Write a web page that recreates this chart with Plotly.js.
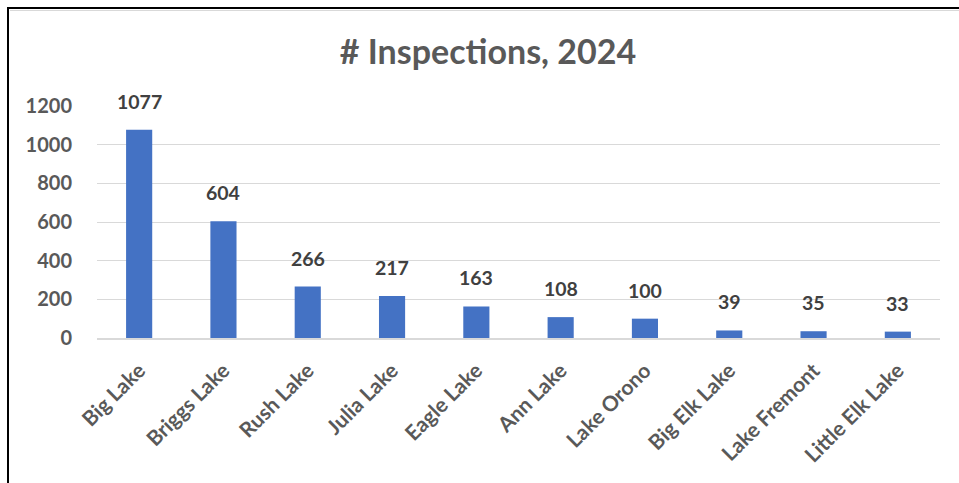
<!DOCTYPE html>
<html>
<head>
<meta charset="utf-8">
<script src="https://cdn.plot.ly/plotly-3.0.1.min.js"></script>
<style>
  html, body { margin: 0; padding: 0; background: #fff; }
  #wrap { position: relative; width: 959px; height: 483px; overflow: hidden; }
  #chart { width: 959px; height: 483px; }
  #frame { position: absolute; left: 7px; top: 7px; width: 1000px; height: 600px;
           border-top: 2px solid #000; border-left: 2px solid #000; pointer-events: none; }
  #inner { position: absolute; left: 10px; top: 10px; width: 1000px; height: 1px;
           background: #d9d9d9; pointer-events: none; }
</style>
</head>
<body>
<div id="wrap">
  <div id="chart"></div>
  <div id="inner"></div>
  <div id="frame"></div>
</div>
<script>
const lakes = ["Big Lake", "Briggs Lake", "Rush Lake", "Julia Lake", "Eagle Lake",
               "Ann Lake", "Lake Orono", "Big Elk Lake", "Lake Fremont", "Little Elk Lake"];
const inspections = [1077, 604, 266, 217, 163, 108, 100, 39, 35, 33];
const yTicks = [0, 200, 400, 600, 800, 1000, 1200];

const FONT = "Lato, 'Liberation Sans', sans-serif";

const labelAnnotations = lakes.map((lake, i) => ({
  x: lake, y: inspections[i], xref: "x", yref: "y",
  text: "<b>" + inspections[i] + "</b>",
  showarrow: false, yanchor: "bottom", yshift: 15,
  font: { family: FONT, size: 19.5, color: "#404040" }
}));

const data = [{
  type: "bar",
  x: lakes,
  y: inspections,
  marker: { color: "#4472C4" },
  hoverinfo: "x+y"
}];

const layout = {
  width: 959, height: 483,
  margin: { l: 97, r: 19, t: 106, b: 145, pad: 0 },
  paper_bgcolor: "#ffffff",
  plot_bgcolor: "#ffffff",
  bargap: 0.69,
  showlegend: false,
  title: {
    text: "<b># Inspections, 2024</b>",
    font: { family: FONT, size: 34, color: "#595959" },
    x: 488 / 959, xref: "container", xanchor: "center",
    y: 1 - 52 / 483, yref: "container", yanchor: "middle"
  },
  xaxis: {
    type: "category",
    tickangle: -45,
    tickfont: { family: FONT, size: 21, color: "#595959", weight: "bold" },
    showgrid: false,
    showline: true, linecolor: "#d9d9d9", linewidth: 2,
    ticks: "", ticklabelstandoff: 10
  },
  yaxis: {
    range: [0, 1200],
    tickvals: yTicks,
    ticktext: yTicks.map(String),
    tickfont: { family: FONT, size: 20, color: "#595959", weight: "bold" },
    showgrid: true, gridcolor: "#d9d9d9", gridwidth: 1,
    zeroline: false, showline: false,
    ticks: "", ticklabelstandoff: 24
  },
  annotations: labelAnnotations
};

Plotly.newPlot("chart", data, layout, { displayModeBar: false, staticPlot: true });
</script>
</body>
</html>
